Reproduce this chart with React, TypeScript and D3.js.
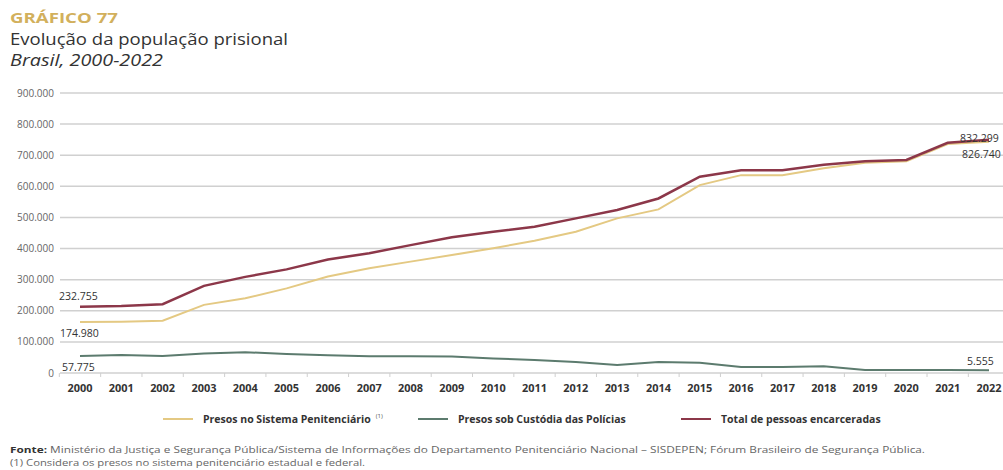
import React from "react";
import * as d3 from "d3";

const years = [2000,2001,2002,2003,2004,2005,2006,2007,2008,2009,2010,2011,2012,2013,2014,2015,2016,2017,2018,2019,2020,2021,2022];
const sistema = [164000,165000,168000,219000,240000,272000,310000,337000,358000,379000,401000,425000,454000,497000,526000,604000,636000,636000,658000,676000,681000,736000,743000];
const policias = [55000,58000,55000,63000,67000,61000,57000,54000,54000,53000,47000,42000,35000,26000,35000,33000,19000,19000,22000,10000,10000,10000,9000];
const total = [213000,215000,221000,280000,309000,333000,365000,385000,411000,436000,454000,470000,497000,524000,561000,631000,652000,652000,669000,681000,685000,740000,750000];
const yTicks = [0,100000,200000,300000,400000,500000,600000,700000,800000,900000];
const startLabels = ["232.755","174.980","57.775"];
const endLabels = ["832.299","826.740","5.555"];
const legendLabels = ["Presos no Sistema Penitenciário","Presos sob Custódia das Polícias","Total de pessoas encarceradas"];

const COL_SIS = "#e4c983";
const COL_POL = "#5c7b6e";
const COL_TOT = "#8c3749";
const SANS = "'Open Sans',Roboto,sans-serif";

export default function App() {
  const W = 1003, H = 470;
  const x = d3.scalePoint<number>().domain(years).range([80, 989]);
  const y = d3.scaleLinear().domain([0, 900000]).range([373, 93]);
  const step = x.step();
  const line = d3.line<number>().x((_, i) => x(years[i])!).y(d => y(d)).curve(d3.curveLinear);
  const fmt = (v: number) => v === 0 ? "0" : d3.format(",")(v).replace(/,/g, ".");
  const boundaries = [x(years[0])! - step / 2, ...years.map(yr => x(yr)! + step / 2)];

  const legend = [
    { x0: 163, c: COL_SIS, t: legendLabels[0], sup: true },
    { x0: 418, c: COL_POL, t: legendLabels[1], sup: false },
    { x0: 681, c: COL_TOT, t: legendLabels[2], sup: false },
  ];

  return (
    <svg width={W} height={H} style={{ position: "absolute", left: 0, top: 0, background: "#fff" }}>
      <text x={10} y={23} fontFamily={SANS} fontWeight={700} fontSize={15} fill="#d2b05c" textLength={108} lengthAdjust="spacingAndGlyphs">GRÁFICO 77</text>
      <text x={10} y={45} fontFamily={SANS} fontWeight={500} fontSize={17} fill="#333" textLength={278} lengthAdjust="spacingAndGlyphs">Evolução da população prisional</text>
      <text x={10} y={66} fontFamily={SANS} fontStyle="italic" fontSize={15.5} fill="#333" textLength={153} lengthAdjust="spacingAndGlyphs">Brasil, 2000-2022</text>

      {yTicks.map(t => (
        <g key={t}>
          <line x1={60} x2={W} y1={y(t)} y2={y(t)} stroke="#d0d0d0" strokeWidth={1.5} />
          <text x={54} y={y(t) + 3.5} textAnchor="end" fontFamily={SANS} fontSize={10} fill="#666">{fmt(t)}</text>
        </g>
      ))}
      {boundaries.map((b, i) => (
        <line key={i} x1={b} x2={b} y1={373} y2={377} stroke="#cfcfcf" strokeWidth={1} />
      ))}
      {years.map(yr => (
        <text key={yr} x={x(yr)} y={392} textAnchor="middle" fontFamily={SANS} fontWeight={700} fontSize={11} fill="#333" textLength={25} lengthAdjust="spacingAndGlyphs">{yr}</text>
      ))}

      <path d={line(policias)!} fill="none" stroke={COL_POL} strokeWidth={2} />
      <path d={line(sistema)!} fill="none" stroke={COL_SIS} strokeWidth={2} />
      <path d={line(total)!} fill="none" stroke={COL_TOT} strokeWidth={2.5} />

      <text x={59} y={300} fontFamily={SANS} fontSize={10.5} fill="#333">{startLabels[0]}</text>
      <text x={60} y={337} fontFamily={SANS} fontSize={10.5} fill="#333">{startLabels[1]}</text>
      <text x={62} y={371} fontFamily={SANS} fontSize={10.5} fill="#333">{startLabels[2]}</text>
      <text x={960} y={142} fontFamily={SANS} fontSize={10.5} fill="#333">{endLabels[0]}</text>
      <text x={962} y={158} fontFamily={SANS} fontSize={10.5} fill="#333">{endLabels[1]}</text>
      <text x={967} y={365} fontFamily={SANS} fontSize={10.5} fill="#333">{endLabels[2]}</text>

      {legend.map((l, i) => (
        <g key={i}>
          <line x1={l.x0} x2={l.x0 + 30} y1={419} y2={419} stroke={l.c} strokeWidth={2} />
          <text x={l.x0 + 40} y={423} fontFamily={SANS} fontWeight={700} fontSize={10.5} fill="#333">
            {l.t}
            {l.sup ? <tspan dx={5} dy={-5} fontSize={6} fontWeight={400} fill="#555">(1)</tspan> : null}
          </text>
        </g>
      ))}

      <text x={10} y={453} fontFamily={SANS} fontSize={9} fill="#666" textLength={915} lengthAdjust="spacingAndGlyphs">
        <tspan fontWeight={700} fill="#333">Fonte:</tspan> Ministério da Justiça e Segurança Pública/Sistema de Informações do Departamento Penitenciário Nacional – SISDEPEN; Fórum Brasileiro de Segurança Pública.
      </text>
      <text x={10} y={466} fontFamily={SANS} fontSize={9} fill="#666" textLength={355} lengthAdjust="spacingAndGlyphs">
        (1) Considera os presos no sistema penitenciário estadual e federal.
      </text>
    </svg>
  );
}
